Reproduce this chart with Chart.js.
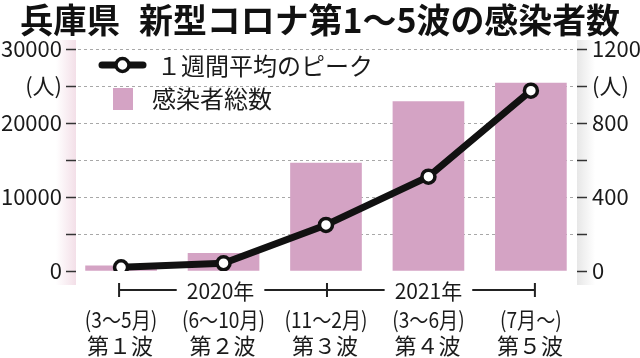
<!DOCTYPE html>
<html><head><meta charset="utf-8">
<script src="https://cdn.jsdelivr.net/npm/chart.js@4.4.1/dist/chart.umd.min.js"></script>
<style>html,body{margin:0;padding:0;background:#fff;}canvas{display:block}</style>
</head><body>
<canvas id="c" width="640" height="358"></canvas>
<script>
// ---- data ----
const waves = ["第１波", "第２波", "第３波", "第４波", "第５波"];
const periods = ["(3～5月)", "(6～10月)", "(11～2月)", "(3～6月)", "(7月～)"];
const years = ["2020年", "2021年"];
const totalCases = [700, 2400, 14600, 22900, 25400];   // 感染者総数 (left axis)
const weeklyPeak = [20, 42, 249, 510, 975];           // 1週間平均のピーク (right axis)
const leftTickLabels = {25000: "(人)", 15000: "", 5000: ""};
const rightTickLabels = {1000: "(人)", 600: "", 200: ""};

const FONT = "'Noto Sans CJK JP', 'Noto Sans', sans-serif";
const INK = '#1a1a1a';
const BAR = '#d4a3c4';

const decor = {
  id: 'decor',
  beforeDraw(chart) {
    const ctx = chart.ctx, a = chart.chartArea;
    ctx.save();
    ctx.fillStyle = '#fff';
    ctx.fillRect(0, 0, chart.width, chart.height);
    let g = ctx.createLinearGradient(a.left - 20, 0, a.left, 0);
    g.addColorStop(0, 'rgba(240,215,226,0)');
    g.addColorStop(1, 'rgba(240,215,226,0.8)');
    ctx.fillStyle = g;
    ctx.fillRect(a.left - 20, 40, 20, 245);
    g = ctx.createLinearGradient(a.right, 0, a.right + 18, 0);
    g.addColorStop(0, 'rgba(225,225,225,0.8)');
    g.addColorStop(1, 'rgba(225,225,225,0)');
    ctx.fillStyle = g;
    ctx.fillRect(a.right, 40, 18, 245);
    ctx.restore();
  },
  beforeDatasetsDraw(chart) {
    // dashed horizontal gridlines from the left scale's ticks
    const ctx = chart.ctx, a = chart.chartArea, ys = chart.scales.y;
    ctx.save();
    ctx.strokeStyle = '#a8a8a8';
    ctx.lineWidth = 1;
    ctx.setLineDash([3, 3]);
    ys.ticks.forEach(t => {
      if (t.value === 0) return;
      const py = Math.round(ys.getPixelForValue(t.value)) + 0.5;
      ctx.beginPath(); ctx.moveTo(a.left + 2, py); ctx.lineTo(a.right - 4, py); ctx.stroke();
    });
    ctx.restore();
  },
  afterDraw(chart) {
    const ctx = chart.ctx, xs = chart.scales.x;
    ctx.save();
    // title
    ctx.fillStyle = '#111';
    ctx.textBaseline = 'middle';
    ctx.textAlign = 'left';
    ctx.font = `bold 34px ${FONT}`;
    ctx.fillText('兵庫県', 20, 20, 100);
    ctx.fillText('新型コロナ第1～5波の感染者数', 139, 20, 481);
    // legend
    ctx.strokeStyle = '#111';
    ctx.lineWidth = 7;
    ctx.lineCap = 'round';
    ctx.beginPath(); ctx.moveTo(102, 65); ctx.lineTo(143, 65); ctx.stroke();
    ctx.beginPath(); ctx.arc(122.5, 65, 6.5, 0, Math.PI * 2);
    ctx.fillStyle = '#fff'; ctx.fill();
    ctx.lineWidth = 3.5; ctx.stroke();
    ctx.fillStyle = BAR;
    ctx.fillRect(113, 88, 20, 22);
    ctx.fillStyle = INK;
    ctx.font = `24px ${FONT}`;
    ctx.fillText('１週間平均のピーク', 157, 66, 218);
    ctx.fillText('感染者総数', 152, 99, 120);
    // category labels
    ctx.textAlign = 'center';
    ctx.font = `22px ${FONT}`;
    waves.forEach((w, i) => {
      const px = xs.getPixelForValue(i);
      const pw = ctx.measureText(periods[i]).width;
      ctx.fillText(periods[i], px, 320, pw * 0.87);
      ctx.fillText(w, px - 1, 346);
    });
    // timeline
    const y = 290;
    const p0 = xs.getPixelForValue(0), p2 = xs.getPixelForValue(2), p4 = xs.getPixelForValue(4);
    const p1 = xs.getPixelForValue(1), p3 = xs.getPixelForValue(3);
    ctx.font = `21px ${FONT}`;
    const w1 = ctx.measureText(years[0]).width, w2 = ctx.measureText(years[1]).width;
    ctx.fillText(years[0], p1 - 3, y + 1);
    ctx.fillText(years[1], p3, y + 1);
    ctx.strokeStyle = '#222';
    ctx.lineWidth = 2;
    ctx.lineCap = 'butt';
    const gap = 10;
    ctx.beginPath();
    ctx.moveTo(p0 - 2, y); ctx.lineTo(p1 - 3 - w1 / 2 - gap, y);
    ctx.moveTo(p1 - 3 + w1 / 2 + gap, y); ctx.lineTo(p3 - w2 / 2 - gap, y);
    ctx.moveTo(p3 + w2 / 2 + gap, y); ctx.lineTo(p4 + 4, y);
    [p0 - 2, p2 + 1, p4 + 4].forEach(p => { ctx.moveTo(p, y - 7); ctx.lineTo(p, y + 7); });
    ctx.stroke();
    ctx.restore();
  }
};

const idx = totalCases.map((_, i) => i);

new Chart(document.getElementById('c'), {
  type: 'bar',
  data: {
    datasets: [
      {
        type: 'line',
        label: '１週間平均のピーク',
        data: idx.map(i => ({x: i, y: weeklyPeak[i]})),
        yAxisID: 'y2',
        borderColor: '#111',
        borderWidth: 7,
        borderCapStyle: 'round',
        borderJoinStyle: 'round',
        tension: 0,
        pointRadius: 6.5,
        pointBorderWidth: 3.5,
        pointBackgroundColor: '#fff',
        pointBorderColor: '#111',
        order: 0
      },
      {
        type: 'bar',
        label: '感染者総数',
        data: idx.map(i => ({x: i, y: totalCases[i]})),
        yAxisID: 'y',
        backgroundColor: BAR,
        barThickness: 71,
        order: 1
      }
    ]
  },
  options: {
    responsive: false,
    animation: false,
    devicePixelRatio: 1,
    layout: {padding: {top: 49, left: 0, right: 0, bottom: 87}},
    plugins: {legend: {display: false}, tooltip: {enabled: false}},
    scales: {
      x: {
        type: 'linear',
        display: false,
        offset: false,
        min: -0.44, max: 4.45
      },
      y: {
        position: 'left',
        min: 0, max: 30000,
        afterFit: s => { s.width = 76; },
        border: {display: false},
        grid: {
          drawOnChartArea: false,
          tickLength: 10,
          tickColor: '#333',
          tickWidth: 1.5
        },
        ticks: {
          stepSize: 5000,
          padding: 4,
          color: INK,
          font: {family: FONT, size: 22},
          callback: v => (v in leftTickLabels ? leftTickLabels[v] : String(v))
        }
      },
      y2: {
        position: 'right',
        min: 0, max: 1200,
        afterFit: s => { s.width = 63; },
        border: {display: false},
        grid: {
          drawOnChartArea: false,
          tickLength: 10,
          tickColor: '#333',
          tickWidth: 1.5
        },
        ticks: {
          stepSize: 200,
          padding: 5,
          color: INK,
          font: {family: FONT, size: 22},
          callback: v => (v in rightTickLabels ? rightTickLabels[v] : String(v))
        }
      }
    }
  },
  plugins: [decor]
});
</script>
</body></html>
